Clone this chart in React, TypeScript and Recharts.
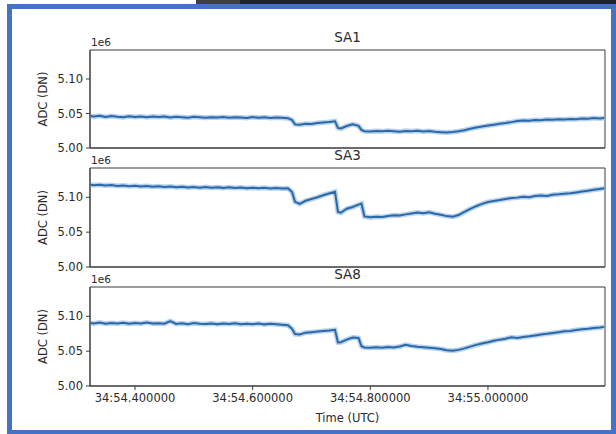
import { LineChart, Line, XAxis, YAxis, ReferenceArea } from "recharts";

// seconds after 34 minutes (UTC)
const TIMES = [
  54.324, 54.33, 54.34, 54.35, 54.36, 54.37, 54.38, 54.39, 54.4, 54.41,
  54.42, 54.43, 54.44, 54.45, 54.46, 54.47, 54.48, 54.49, 54.5, 54.51,
  54.52, 54.53, 54.54, 54.55, 54.56, 54.57, 54.58, 54.59, 54.6, 54.61,
  54.62, 54.63, 54.64, 54.65, 54.66, 54.667, 54.672, 54.68, 54.69, 54.7,
  54.71, 54.72, 54.73, 54.74, 54.745, 54.75, 54.76, 54.77, 54.78, 54.785,
  54.79, 54.8, 54.81, 54.82, 54.83, 54.84, 54.85, 54.86, 54.87, 54.88,
  54.89, 54.9, 54.91, 54.92, 54.93, 54.94, 54.95, 54.96, 54.97, 54.98,
  54.99, 55.0, 55.01, 55.02, 55.03, 55.04, 55.05, 55.06, 55.07, 55.08,
  55.09, 55.1, 55.11, 55.12, 55.13, 55.14, 55.15, 55.16, 55.17, 55.18,
  55.19, 55.198,
];

// ADC values in units of 1e6 DN
const SA1 = [
  5.0462, 5.0455, 5.0468, 5.045, 5.0463, 5.0452, 5.0447, 5.046, 5.0451, 5.0458,
  5.0446, 5.0455, 5.0449, 5.0457, 5.0443, 5.0452, 5.0446, 5.044, 5.0451, 5.0444,
  5.0438, 5.0447, 5.0441, 5.045, 5.0437, 5.0446, 5.0442, 5.0435, 5.0448, 5.044,
  5.0444, 5.0434, 5.0443, 5.0437, 5.0432, 5.0405, 5.0342, 5.0336, 5.0352, 5.0348,
  5.0362, 5.037, 5.0377, 5.0388, 5.029, 5.0282, 5.0318, 5.0345, 5.032, 5.0262,
  5.0243, 5.0238, 5.0246, 5.0241, 5.025, 5.0244, 5.0236, 5.0248, 5.0243, 5.0251,
  5.024, 5.0245, 5.0234, 5.0229, 5.0225, 5.0231, 5.0242, 5.0258, 5.028, 5.0296,
  5.031, 5.0325, 5.0338, 5.0352, 5.0361, 5.0375, 5.039, 5.0398, 5.0394, 5.0405,
  5.0401, 5.0412, 5.0408, 5.0418, 5.0414, 5.0421, 5.0417, 5.0428, 5.0424, 5.0433,
  5.0429, 5.0436,
];

const SA3 = [
  5.118, 5.1172, 5.1178, 5.1168, 5.1175, 5.1163, 5.117, 5.116, 5.1166, 5.1155,
  5.1162, 5.115, 5.1158, 5.1147, 5.1154, 5.1145, 5.1152, 5.1141, 5.1149, 5.1138,
  5.1146, 5.1137, 5.1143, 5.1135, 5.1145, 5.1132, 5.114, 5.113, 5.1138, 5.1128,
  5.1136, 5.1127, 5.1133, 5.1125, 5.113, 5.1075, 5.0935, 5.0905, 5.095, 5.0975,
  5.1, 5.103, 5.1055, 5.108, 5.079, 5.0778, 5.0835, 5.086, 5.0895, 5.091,
  5.0725, 5.0712, 5.072, 5.0716, 5.073, 5.0742, 5.0738, 5.0755, 5.0768, 5.0782,
  5.077, 5.0786, 5.0765, 5.0748, 5.073, 5.0722, 5.0745, 5.079, 5.0835, 5.0872,
  5.0905, 5.0932, 5.0948, 5.096, 5.0975, 5.0988, 5.0995, 5.1008, 5.1002, 5.1018,
  5.1025, 5.102, 5.1036, 5.1042, 5.105, 5.1058, 5.107, 5.1082, 5.1095, 5.1108,
  5.112, 5.1128,
];

const SA8 = [
  5.0905, 5.0898, 5.091, 5.0893, 5.0902, 5.0896, 5.0908, 5.0892, 5.0905, 5.0897,
  5.0912, 5.0896, 5.09, 5.0893, 5.0932, 5.089, 5.0899, 5.0887, 5.0903, 5.0894,
  5.0888, 5.0898, 5.0886, 5.0895, 5.0889, 5.09, 5.0885, 5.0893, 5.0887, 5.0896,
  5.0884, 5.0892, 5.0886, 5.088, 5.0872, 5.082, 5.0745, 5.0738, 5.0765, 5.0772,
  5.078, 5.0788, 5.0795, 5.0805, 5.0625, 5.0628, 5.0665, 5.0695, 5.0688, 5.057,
  5.0552, 5.0548, 5.0556, 5.055, 5.056, 5.0553, 5.0566, 5.0592, 5.0575, 5.0562,
  5.0556, 5.0549, 5.0542, 5.053, 5.0512, 5.0505, 5.0518, 5.054, 5.0565, 5.059,
  5.061, 5.0628, 5.065, 5.0665, 5.0678, 5.07, 5.0688, 5.0702, 5.0712, 5.0725,
  5.0738, 5.0748, 5.076, 5.0772, 5.0785, 5.079, 5.0802, 5.0815, 5.0822, 5.0832,
  5.084, 5.0848,
];

const Y_TICKS = [5.0, 5.05, 5.1];
const X_TICKS = [54.4, 54.6, 54.8, 55.0];
const X_DOMAIN = [54.3235, 55.199];
const Y_DOMAIN = [5.0, 5.142];

const AXIS = "#3a3a3a";
const TEXT = "#2a2a2a";
const LINE = "#2c68a8";
const FONT = "DejaVu Sans";

const fmtTime = (t: number) => `34:${t.toFixed(6).padStart(9, "0")}`;

function Panel({
  title,
  values,
  top,
  plotHeight,
  last,
}: {
  title: string;
  values: number[];
  top: number;
  plotHeight: number;
  last: boolean;
}) {
  const data = TIMES.map((t, i) => ({ t, v: values[i] }));
  const xh = last ? 38 : 10;
  return (
    <>
      <div
        style={{
          position: "absolute",
          left: 0,
          width: 695,
          top: top - 20,
          textAlign: "center",
          fontSize: 13.5,
          lineHeight: "14px",
          color: TEXT,
        }}
      >
        {title}
      </div>
      <div
        style={{
          position: "absolute",
          left: 91,
          top: top - 13,
          fontSize: 10.5,
          lineHeight: "11px",
          color: TEXT,
        }}
      >
        1e6
      </div>
      <div style={{ position: "absolute", left: 0, top: top - 10 }}>
        <LineChart
          width={616}
          height={10 + plotHeight + xh}
          data={data}
          margin={{ top: 10, right: 11, bottom: 0, left: 0 }}
        >
          <XAxis
            dataKey="t"
            type="number"
            domain={X_DOMAIN}
            allowDataOverflow
            ticks={X_TICKS}
            tickFormatter={fmtTime}
            height={xh}
            tickSize={4}
            tickMargin={4}
            stroke={AXIS}
            tick={last ? { fill: TEXT, fontSize: 11.5, fontFamily: FONT } : false}
            label={
              last
                ? {
                    value: "Time (UTC)",
                    position: "insideBottom",
                    offset: 2,
                    fill: TEXT,
                    fontSize: 11.5,
                    fontFamily: FONT,
                  }
                : undefined
            }
          />
          <YAxis
            type="number"
            domain={Y_DOMAIN}
            allowDataOverflow
            ticks={Y_TICKS}
            tickFormatter={(v: number) => v.toFixed(2)}
            width={90}
            tickSize={4}
            tickMargin={3}
            stroke={AXIS}
            tick={{ fill: TEXT, fontSize: 11.5, fontFamily: FONT }}
            label={{
              value: "ADC (DN)",
              angle: -90,
              position: "center",
              dx: -2,
              fill: TEXT,
              fontSize: 11.5,
              fontFamily: FONT,
            }}
          />
          <ReferenceArea
            x1={X_DOMAIN[0]}
            x2={X_DOMAIN[1]}
            y1={Y_DOMAIN[0]}
            y2={Y_DOMAIN[1]}
            fill="none"
            stroke={AXIS}
            strokeWidth={1}
            ifOverflow="visible"
          />
          <Line
            dataKey="v"
            type="linear"
            stroke="#b9d3ee"
            strokeWidth={5}
            dot={false}
            isAnimationActive={false}
          />
          <Line
            dataKey="v"
            type="linear"
            stroke={LINE}
            strokeWidth={2}
            dot={false}
            isAnimationActive={false}
          />
        </LineChart>
      </div>
    </>
  );
}

const PANELS = [
  { title: "SA1", values: SA1, top: 50, plotHeight: 98 },
  { title: "SA3", values: SA3, top: 168, plotHeight: 99 },
  { title: "SA8", values: SA8, top: 287, plotHeight: 99 },
];

export default function App() {
  return (
    <div
      style={{
        position: "absolute",
        left: 0,
        top: 0,
        width: 616,
        height: 434,
        background: "#fff",
        overflow: "hidden",
        fontFamily: FONT,
      }}
    >
      <div style={{ position: "absolute", left: 196, top: 0, width: 44, height: 4, background: "#3d3f44" }} />
      <div style={{ position: "absolute", left: 240, top: 0, width: 376, height: 4, background: "#1c2230" }} />
      <div
        style={{
          position: "absolute",
          left: 7,
          top: 4,
          width: 609 - 10,
          height: 430 - 9,
          border: "5px solid #4472c4",
          borderBottomWidth: 4,
        }}
      />
      {PANELS.map((p, i) => (
        <Panel key={p.title} {...p} last={i === PANELS.length - 1} />
      ))}
    </div>
  );
}
